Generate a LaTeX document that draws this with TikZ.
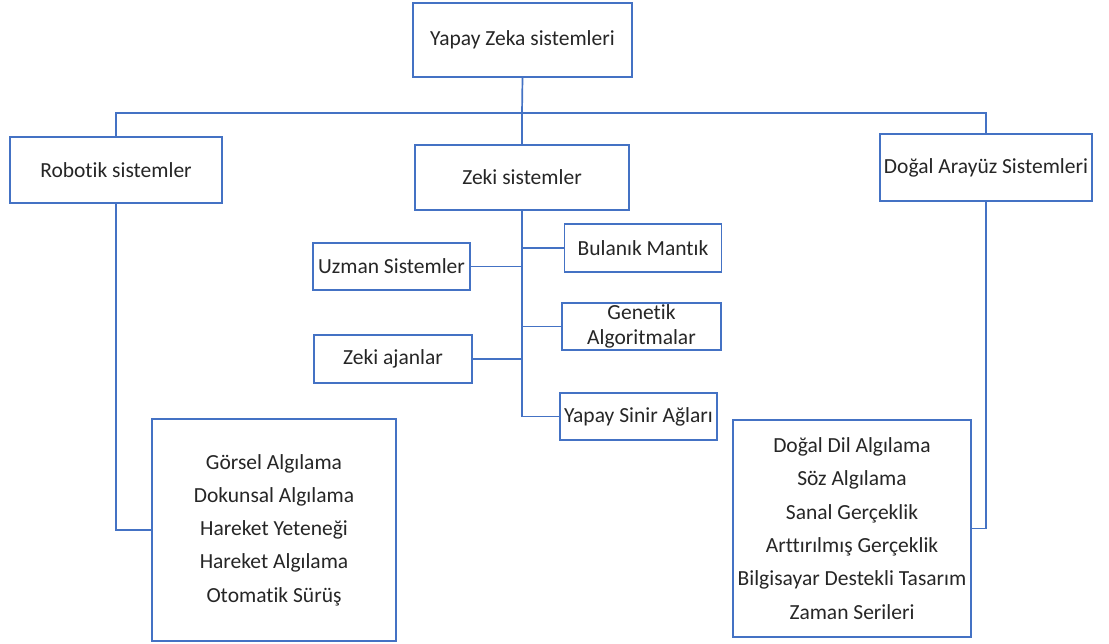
\documentclass[tikz,border=0pt]{standalone}
\usepackage{fontspec}
\setmainfont{Carlito}[Ligatures=NoCommon]
\definecolor{boxblue}{HTML}{4472C4}
\definecolor{ink}{HTML}{262626}
\begin{document}
\begin{tikzpicture}[x=1pt,y=-1pt,
  box/.style={draw=boxblue,line width=1.6pt,fill=white,inner sep=0pt,
    text=ink,font=\fontsize{21.5}{26}\selectfont,align=center},
  link/.style={draw=boxblue,line width=1.7pt}]
\useasboundingbox[fill=white] (0,0) rectangle (1109,644);

% top level
\node[box,minimum width=219pt,minimum height=74pt] (root) at (522.5,40) {Yapay Zeka sistemleri};
\node[box,minimum width=212pt,minimum height=66pt] (rob) at (116,170) {Robotik sistemler};
\node[box,minimum width=214pt,minimum height=65pt] (zeki) at (522,177.5) {Zeki sistemler};
\node[box,minimum width=212pt,minimum height=67pt] (dogal) at (986,167.5) {Doğal Arayüz Sistemleri};

% branches of Zeki sistemler
\node[box,minimum width=157pt,minimum height=48pt] (bul) at (643,248) {Bulanık Mantık};
\node[box,minimum width=157pt,minimum height=47pt] (uzm) at (391.5,266.5) {Uzman Sistemler};
\node[box,minimum width=159pt,minimum height=47pt,
  font=\fontsize{21.5}{25}\selectfont] (gen) at (641.5,326.5) {Genetik\\Algoritmalar};
\node[box,minimum width=158pt,minimum height=48pt] (ajn) at (393,359) {Zeki ajanlar};
\node[box,minimum width=157pt,minimum height=47pt] (ysa) at (638.5,416.5) {Yapay Sinir Ağları};

% leaf lists
\node[box,minimum width=244pt,minimum height=222pt,
  font=\fontsize{21.5}{33.3}\selectfont] (robl) at (274,530)
  {Görsel Algılama\\Dokunsal Algılama\\Hareket Yeteneği\\Hareket Algılama\\Otomatik Sürüş};
\node[box,minimum width=238pt,minimum height=217pt,
  font=\fontsize{21.5}{33.4}\selectfont] (dogl) at (852,528.5)
  {Doğal Dil Algılama\\Söz Algılama\\Sanal Gerçeklik\\Arttırılmış Gerçeklik\\Bilgisayar Destekli Tasarım\\Zaman Serileri};

% connectors
\coordinate (bus) at (522,113);
\draw[link] (root.south) -- (bus);
\draw[link] (bus) -- (zeki.north);
\draw[link] (rob.north) |- (bus) -| (dogal.north);

\coordinate (trunk) at (522,416.5);
\draw[link] (zeki.south) -- (trunk);
\draw[link] (trunk) -- (ysa.west);
\draw[link] (bul.west) -- (bul.west -| zeki.south);
\draw[link] (uzm.east) -- (uzm.east -| zeki.south);
\draw[link] (gen.west) -- (gen.west -| zeki.south);
\draw[link] (ajn.east) -- (ajn.east -| zeki.south);

\draw[link] (rob.south) |- (robl.west);
\draw[link] (dogal.south) |- (dogl.east);
\end{tikzpicture}
\end{document}
